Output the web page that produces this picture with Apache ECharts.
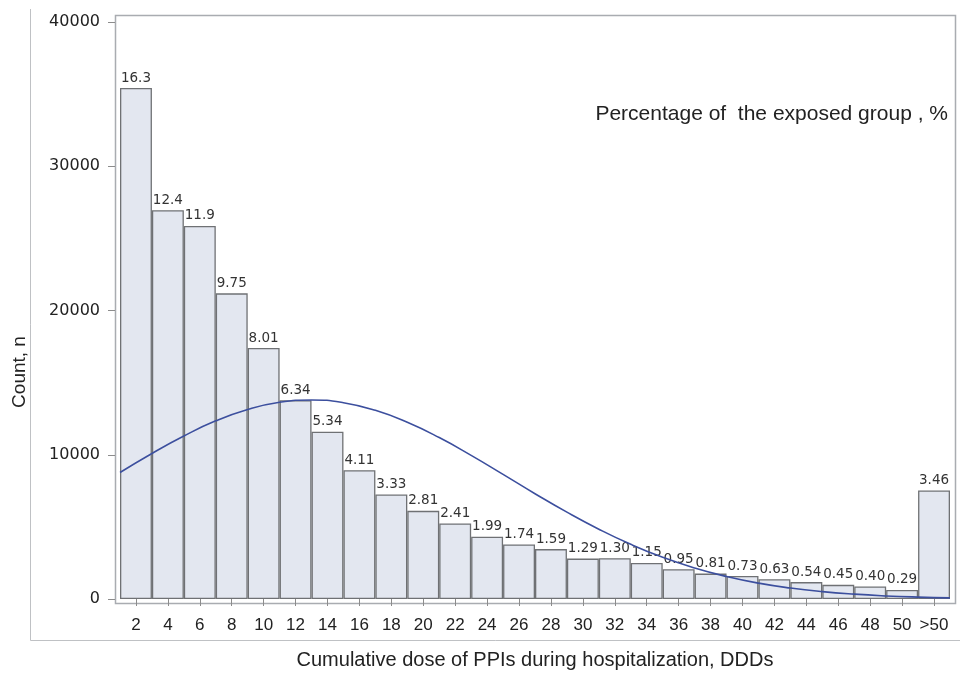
<!DOCTYPE html>
<html>
<head>
<meta charset="utf-8">
<title>Cumulative dose of PPIs during hospitalization</title>
<script src="https://cdn.jsdelivr.net/npm/echarts@6/dist/echarts.min.js"></script>
<style>
  html, body { margin: 0; padding: 0; background: #ffffff; }
  #chart { width: 960px; height: 675px; }
</style>
</head>
<body>
<div id="chart"></div>
<script>
// Dose bins (DDDs), bin width 2; last bin collects everything above 50
const doseBins = ['2','4','6','8','10','12','14','16','18','20','22','24','26',
                  '28','30','32','34','36','38','40','42','44','46','48','50','>50'];

// Number of patients in each bin
const patientCounts = [35420, 26950, 25860, 21190, 17400, 13780, 11600, 8930, 7240,
                       6110, 5240, 4320, 3780, 3460, 2800, 2830, 2500, 2060, 1760,
                       1590, 1370, 1170, 980, 870, 630, 7520];

// Share of the exposed group in each bin, %
const exposedPct = ['16.3','12.4','11.9','9.75','8.01','6.34','5.34','4.11','3.33',
                    '2.81','2.41','1.99','1.74','1.59','1.29','1.30','1.15','0.95',
                    '0.81','0.73','0.63','0.54','0.45','0.40','0.29','3.46'];

// Fitted normal curve: dose (DDDs) and expected count per bin
const curveDose   = [1, 3, 5, 7, 9, 11, 13, 15, 17, 19, 21, 23, 25, 27,
                     29, 31, 33, 35, 37, 39, 41, 43, 45, 47, 49, 51, 53];
const curveCounts = [8770, 10090, 11300, 12350, 13140, 13640, 13800, 13610, 13080,
                     12250, 11190, 9960, 8640, 7300, 6020, 4840, 3790, 2890, 2150,
                     1560, 1100, 760, 510, 335, 213, 132, 80];

const yTicks = [0, 10000, 20000, 30000, 40000];

const chart = echarts.init(document.getElementById('chart'), null, { renderer: 'canvas' });

const frameColor = '#a9acb1';
const textColor = '#222222';

chart.setOption({
  backgroundColor: '#ffffff',
  animation: false,
  grid: { left: 120, right: 10, top: 22, bottom: 72, containLabel: false },
  xAxis: [
    {
      type: 'category',
      data: doseBins,
      boundaryGap: true,
      name: 'Cumulative dose of PPIs during hospitalization, DDDs',
      nameLocation: 'middle',
      nameGap: 51,
      nameTextStyle: { fontFamily: 'Liberation Sans', fontSize: 20, color: textColor },
      axisLine: { show: false },
      axisTick: { show: true, alignWithLabel: true, length: 7, lineStyle: { color: '#8c8c8c' } },
      axisLabel: { fontFamily: 'Liberation Sans', fontSize: 17, color: textColor, margin: 18, interval: 0 },
      splitLine: { show: false }
    },
    {
      type: 'value',
      min: curveDose[0],
      max: curveDose[curveDose.length - 1],
      show: false
    }
  ],
  yAxis: {
    type: 'value',
    min: yTicks[0],
    max: yTicks[yTicks.length - 1],
    interval: 10000,
    offset: 5,
    axisLine: { show: false },
    axisTick: { show: true, length: 7, lineStyle: { color: '#8c8c8c' } },
    axisLabel: { fontFamily: 'DejaVu Sans', fontSize: 16, color: textColor, margin: 15,
                 formatter: v => String(v) },
    splitLine: { show: false }
  },
  graphic: [
    // plot frame
    { type: 'rect', silent: true, z: 0,
      shape: { x: 115.5, y: 15.5, width: 840, height: 588 },
      style: { fill: 'none', stroke: frameColor, lineWidth: 1.5 } },
    // outer panel edges
    { type: 'line', silent: true,
      shape: { x1: 30.5, y1: 9, x2: 30.5, y2: 640.5 },
      style: { stroke: '#bfc1c4', lineWidth: 1 } },
    { type: 'line', silent: true,
      shape: { x1: 30.5, y1: 640.5, x2: 960, y2: 640.5 },
      style: { stroke: '#bfc1c4', lineWidth: 1 } },
    // y-axis title
    { type: 'text', silent: true, x: 20, y: 372, rotation: Math.PI / 2,
      style: { text: 'Count, n', x: 0, y: 0, align: 'center', verticalAlign: 'middle',
               font: '19px "Liberation Sans"', fill: textColor } },
    { type: 'text', silent: true,
      style: { text: 'Percentage of  the exposed group , %', x: 948, y: 114,
               align: 'right', verticalAlign: 'middle',
               font: '21px "Liberation Sans"', fill: textColor } }
  ],
  series: [
    {
      type: 'bar',
      data: patientCounts,
      barCategoryGap: '0%',
      itemStyle: { color: '#e3e7f0', borderColor: '#6f7174', borderWidth: 1.3 },
      label: {
        show: true,
        position: 'top',
        distance: 3,
        fontFamily: 'DejaVu Sans',
        fontSize: 13.5,
        color: '#333333',
        formatter: p => exposedPct[p.dataIndex]
      },
      z: 2
    },
    {
      type: 'line',
      xAxisIndex: 1,
      data: curveDose.map((d, i) => [d, curveCounts[i]]),
      smooth: true,
      symbol: 'none',
      lineStyle: { color: '#3c4f9e', width: 1.6 },
      z: 3
    }
  ]
});
</script>
</body>
</html>
